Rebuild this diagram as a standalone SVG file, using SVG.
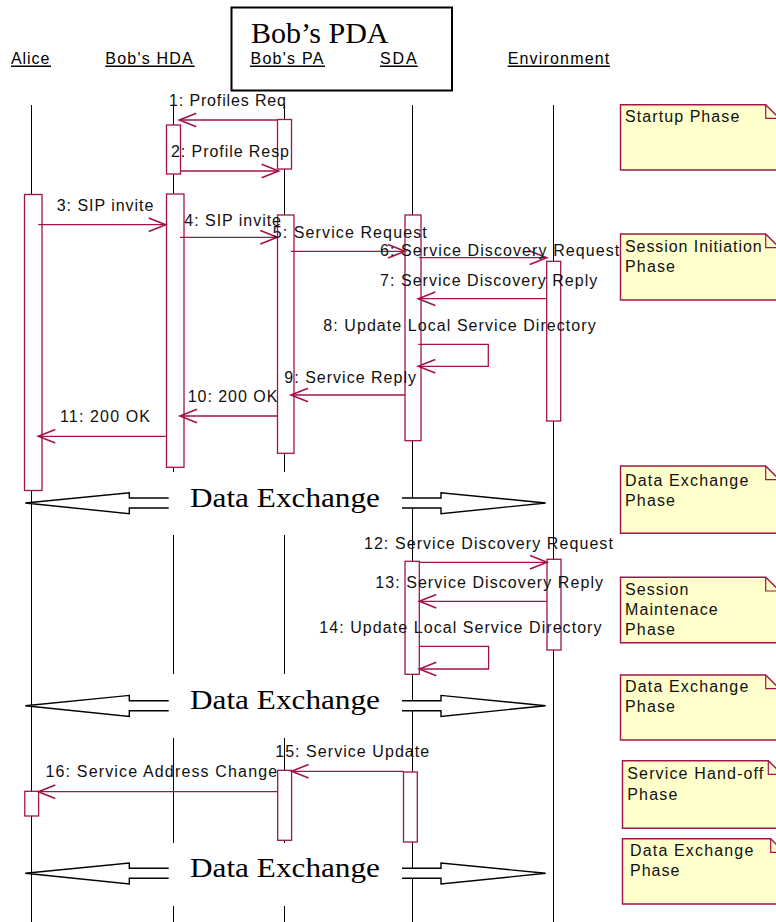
<svg xmlns="http://www.w3.org/2000/svg" width="776" height="922" viewBox="0 0 776 922">
<defs>
<marker id="open" markerUnits="userSpaceOnUse" markerWidth="20" markerHeight="16" viewBox="-18 -8 20 16" refX="0" refY="0" orient="auto" overflow="visible">
<path d="M-17,-6.7 L0,0 L-17,6.7" fill="none" stroke="#a3134b" stroke-width="1.6"/>
</marker>
<style>
.ll{stroke:#000;stroke-width:1;fill:none}
.act{fill:#fff;stroke:#a3134b;stroke-width:1.3}
.msg{stroke:#a3134b;stroke-width:1.3;fill:none;marker-end:url(#open)}
.lbl{font-family:"Liberation Sans",Arial,sans-serif;font-size:16px;fill:#111}
.name{font-family:"Liberation Sans",Arial,sans-serif;font-size:16px;fill:#000}
.ul{stroke:#000;stroke-width:1.5}
.note{fill:#ffffcc;stroke:#a3134b;stroke-width:1.4}
.fold{fill:none;stroke:#a3134b;stroke-width:1.2}
.big{font-family:"Liberation Serif","Times New Roman",serif;fill:#000}
.dx{fill:#fff;stroke:#000;stroke-width:1.4;stroke-linejoin:miter}
</style>
</defs>
<rect width="776" height="922" fill="#fff"/>

<g id="bobs-pda">
<rect x="231.5" y="7.5" width="220.5" height="83" fill="none" stroke="#000" stroke-width="2"/>
<text class="big" x="251" y="43.3" font-size="30">Bob’s PDA</text>
</g>

<g id="alice">
<text class="name" x="11" y="64" textLength="38.3" lengthAdjust="spacing">Alice</text>
<line class="ul" x1="11" y1="66.3" x2="51" y2="66.3"/>
<line class="ll" x1="31.5" y1="105" x2="31.5" y2="922"/>
<rect class="act" x="24.5" y="194.5" width="17.5" height="296"/>
<rect class="act" x="24.8" y="791.3" width="13.8" height="24.7"/>
</g>

<g id="bobs-hda">
<text class="name" x="105.3" y="64" textLength="87.4" lengthAdjust="spacing">Bob's HDA</text>
<line class="ul" x1="105.3" y1="66.3" x2="194.7" y2="66.3"/>
<path class="ll" d="M173.5,105 V472 M173.5,535 V674 M173.5,738 V843 M173.5,906 V922"/>
<rect class="act" x="166.5" y="125" width="14" height="49"/>
<rect class="act" x="166.5" y="194" width="17.5" height="273.3"/>
</g>

<g id="bobs-pa">
<text class="name" x="250.5" y="64" textLength="72.8" lengthAdjust="spacing">Bob's PA</text>
<line class="ul" x1="250" y1="66.3" x2="325" y2="66.3"/>
<path class="ll" d="M284.5,105 V472 M284.5,535 V674 M284.5,738 V843 M284.5,906 V922"/>
<rect class="act" x="277.5" y="119.5" width="14" height="49.5"/>
<rect class="act" x="277.5" y="215" width="16.5" height="238.3"/>
<rect class="act" x="277.7" y="770.3" width="13.9" height="70"/>
</g>

<g id="sda">
<text class="name" x="380" y="64" textLength="36.7" lengthAdjust="spacing">SDA</text>
<line class="ul" x1="380" y1="66.3" x2="417.7" y2="66.3"/>
<line class="ll" x1="412.5" y1="105" x2="412.5" y2="922"/>
<rect class="act" x="405" y="215" width="16" height="225.7"/>
<rect class="act" x="405" y="561.3" width="14.3" height="113"/>
<rect class="act" x="403.5" y="772" width="13.8" height="70"/>
</g>

<g id="environment">
<text class="name" x="507.7" y="64" textLength="101.6" lengthAdjust="spacing">Environment</text>
<line class="ul" x1="507.7" y1="66.3" x2="610" y2="66.3"/>
<line class="ll" x1="553.5" y1="105" x2="553.5" y2="922"/>
<rect class="act" x="546.7" y="261.3" width="14" height="159.7"/>
<rect class="act" x="547" y="559.3" width="14" height="90.7"/>
</g>

<g id="connectors">
<line class="msg" x1="277.3" y1="120" x2="179.3" y2="120"/>
<line class="msg" x1="180.3" y1="171" x2="278.7" y2="171"/>
<line class="msg" x1="38.3" y1="224.7" x2="165.7" y2="224.7"/>
<line class="msg" x1="180" y1="237.3" x2="277.3" y2="237.3"/>
<line class="msg" x1="291" y1="251.3" x2="405" y2="251.3"/>
<line class="msg" x1="419" y1="257.7" x2="546.7" y2="257.7"/>
<line class="msg" x1="546.7" y1="298.7" x2="418.3" y2="298.7"/>
<path class="msg" d="M418.3,344.3 H488.3 V366.3 H418.3"/>
<line class="msg" x1="405" y1="395" x2="291" y2="395"/>
<line class="msg" x1="277.3" y1="416" x2="180" y2="416"/>
<line class="msg" x1="165.7" y1="436.3" x2="38.3" y2="436.3"/>
<line class="msg" x1="419.3" y1="562.3" x2="547" y2="562.3"/>
<line class="msg" x1="547" y1="601.3" x2="419.3" y2="601.3"/>
<path class="msg" d="M419.3,646.3 H488.6 V669 H419.3"/>
<line class="msg" x1="403.5" y1="771.3" x2="291.6" y2="771.3"/>
<line class="msg" x1="277.7" y1="791.7" x2="38.3" y2="791.7"/>

<text class="lbl" x="169" y="106" textLength="117" lengthAdjust="spacing">1: Profiles Req</text>
<text class="lbl" x="171" y="156.7" textLength="118" lengthAdjust="spacing">2: Profile Resp</text>
<text class="lbl" x="56.7" y="210.7" textLength="96.7" lengthAdjust="spacing">3: SIP invite</text>
<text class="lbl" x="184.3" y="225.7" textLength="96.7" lengthAdjust="spacing">4: SIP invite</text>
<text class="lbl" x="272.7" y="238.3" textLength="154" lengthAdjust="spacing">5: Service Request</text>
<text class="lbl" x="380" y="256" textLength="239.3" lengthAdjust="spacing">6: Service Discovery Request</text>
<text class="lbl" x="380" y="285.7" textLength="217.3" lengthAdjust="spacing">7: Service Discovery Reply</text>
<text class="lbl" x="323.3" y="331" textLength="272.4" lengthAdjust="spacing">8: Update Local Service Directory</text>
<text class="lbl" x="284.3" y="382.7" textLength="131.7" lengthAdjust="spacing">9: Service Reply</text>
<text class="lbl" x="187.7" y="402" textLength="89.6" lengthAdjust="spacing">10: 200 OK</text>
<text class="lbl" x="60" y="422" textLength="90" lengthAdjust="spacing">11: 200 OK</text>
<text class="lbl" x="363.9" y="549.3" textLength="249" lengthAdjust="spacing">12: Service Discovery Request</text>
<text class="lbl" x="375.2" y="588.3" textLength="227.8" lengthAdjust="spacing">13: Service Discovery Reply</text>
<text class="lbl" x="319.3" y="633.3" textLength="282.2" lengthAdjust="spacing">14: Update Local Service Directory</text>
<text class="lbl" x="275.2" y="757.3" textLength="154" lengthAdjust="spacing">15: Service Update</text>
<text class="lbl" x="45.5" y="777.3" textLength="231.7" lengthAdjust="spacing">16: Service Address Change</text>
</g>

<g id="data-exchange-1">
<path class="dx" d="M168.7,498 H129.3 V492.7 L25.3,503 L129.3,513.7 V508 H168.7"/>
<path class="dx" d="M402,498 H441 V492.7 L545.7,503 L441,513.7 V508 H402"/>
<text class="big" x="190" y="506.6" font-size="27" textLength="190" lengthAdjust="spacingAndGlyphs">Data Exchange</text>
</g>
<g id="data-exchange-2">
<path class="dx" d="M168.7,700.7 H129.3 V695.4 L25.3,705.7 L129.3,716.4 V710.7 H168.7"/>
<path class="dx" d="M402,700.7 H441 V695.4 L545.7,705.7 L441,716.4 V710.7 H402"/>
<text class="big" x="190" y="709.3" font-size="27" textLength="190" lengthAdjust="spacingAndGlyphs">Data Exchange</text>
</g>
<g id="data-exchange-3">
<path class="dx" d="M168.7,868.3 H129.3 V863 L25.3,873.3 L129.3,884 V878.3 H168.7"/>
<path class="dx" d="M402,868.3 H441 V863 L545.7,873.3 L441,884 V878.3 H402"/>
<text class="big" x="190" y="877" font-size="27" textLength="190" lengthAdjust="spacingAndGlyphs">Data Exchange</text>
</g>

<g id="note-startup">
<path class="note" d="M620.5,104.7 H765.7 L790,129 V170 H620.5 Z"/>
<path class="fold" d="M765.7,104.7 V118.4 H790"/>
<text class="lbl" x="625" y="122.3" textLength="114.3" lengthAdjust="spacing">Startup Phase</text>
</g>
<g id="note-session-initiation">
<path class="note" d="M620.5,234 H765.7 L790,258 V300 H620.5 Z"/>
<path class="fold" d="M765.7,234 V247.7 H790"/>
<text class="lbl" x="625" y="252.3" textLength="136.7" lengthAdjust="spacing">Session Initiation</text>
<text class="lbl" x="625" y="271.7" textLength="50" lengthAdjust="spacing">Phase</text>
</g>
<g id="note-data-exchange-1">
<path class="note" d="M620.5,466 H765.7 L790,490 V533.3 H620.5 Z"/>
<path class="fold" d="M765.7,466 V479.7 H790"/>
<text class="lbl" x="625" y="485.7" textLength="123.3" lengthAdjust="spacing">Data Exchange</text>
<text class="lbl" x="625" y="505.7" textLength="50" lengthAdjust="spacing">Phase</text>
</g>
<g id="note-session-maintenance">
<path class="note" d="M620.5,577.3 H765.7 L790,601 V642.7 H620.5 Z"/>
<path class="fold" d="M765.7,577.3 V591 H790"/>
<text class="lbl" x="625" y="595" textLength="63.3" lengthAdjust="spacing">Session</text>
<text class="lbl" x="625" y="615" textLength="92.7" lengthAdjust="spacing">Maintenace</text>
<text class="lbl" x="625" y="635" textLength="50" lengthAdjust="spacing">Phase</text>
</g>
<g id="note-data-exchange-2">
<path class="note" d="M620.5,675 H765.7 L790,699 V740 H620.5 Z"/>
<path class="fold" d="M765.7,675 V688.7 H790"/>
<text class="lbl" x="625" y="692.3" textLength="123.3" lengthAdjust="spacing">Data Exchange</text>
<text class="lbl" x="625" y="712.3" textLength="50" lengthAdjust="spacing">Phase</text>
</g>
<g id="note-service-handoff">
<path class="note" d="M622.5,760.7 H768.3 L792,784 V828.3 H622.5 Z"/>
<path class="fold" d="M768.3,760.7 V774.4 H792"/>
<text class="lbl" x="627.3" y="779.3" textLength="136" lengthAdjust="spacing">Service Hand-off</text>
<text class="lbl" x="627.3" y="800" textLength="50" lengthAdjust="spacing">Phase</text>
</g>
<g id="note-data-exchange-3">
<path class="note" d="M622.5,838.7 H770.7 L794,862 V904 H622.5 Z"/>
<path class="fold" d="M770.7,838.7 V852.4 H794"/>
<text class="lbl" x="630" y="856" textLength="123.3" lengthAdjust="spacing">Data Exchange</text>
<text class="lbl" x="630" y="876" textLength="49.3" lengthAdjust="spacing">Phase</text>
</g>
</svg>
